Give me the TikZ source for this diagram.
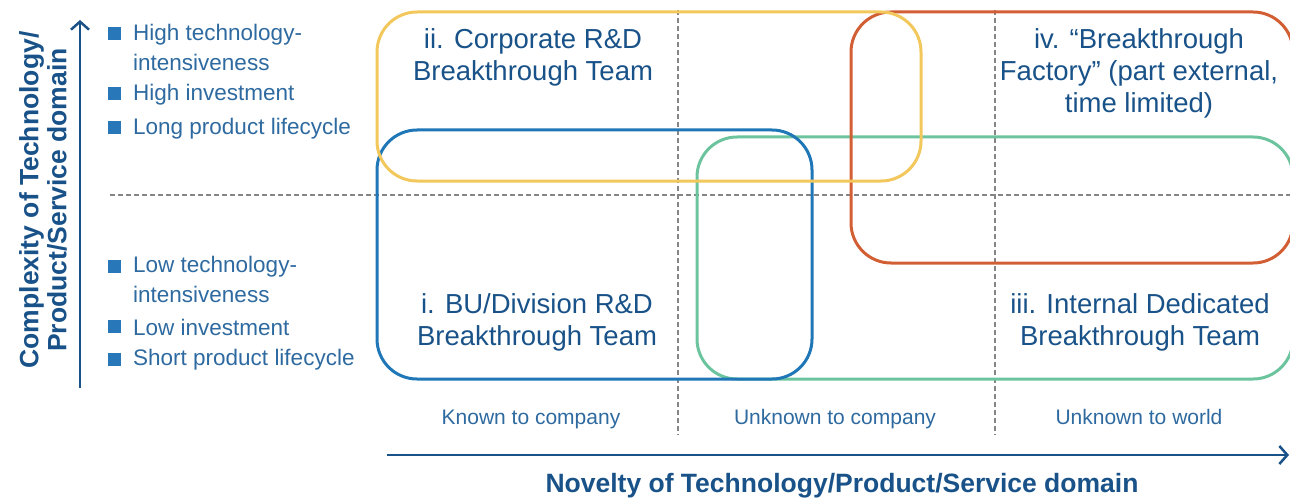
\documentclass[tikz,border=0pt]{standalone}
\usepackage{fontspec}
\setmainfont{Liberation Sans}
\usetikzlibrary{arrows.meta}
\definecolor{Navy}{RGB}{25,82,136}
\definecolor{Ink}{RGB}{46,106,160}
\definecolor{Sq}{RGB}{40,120,185}
\definecolor{Gold}{RGB}{242,199,92}
\definecolor{Sea}{RGB}{31,119,183}
\definecolor{Mint}{RGB}{108,196,158}
\definecolor{Rust}{RGB}{210,94,52}

\begin{document}
\begin{tikzpicture}[x=1pt,y=-1pt,
  box/.style={line width=3pt,rounded corners=40pt},
  grid/.style={black!48,line width=1.4pt,dash pattern=on 5pt off 3pt},
  axis/.style={Navy,line width=2.5pt,-{Straight Barb[length=8pt,width=18pt]}},
  team/.style={Navy,font=\fontsize{27.5}{32}\selectfont,align=center,inner sep=0},
  item/.style={Ink,font=\fontsize{22.5}{26}\selectfont,anchor=west,inner sep=0},
  zone/.style={Ink,font=\fontsize{21}{25}\selectfont,anchor=base,inner sep=0},
  title/.style={Navy,font=\fontsize{26.5}{28}\selectfont\bfseries,align=center,inner sep=0}]
\useasboundingbox (0,0) rectangle (1290,500);

% quadrant grid
\draw[grid] (110,195) -- (1290,195);
\foreach \x in {678,995}
  \draw[grid] (\x,10) -- (\x,435);

% team areas
\draw[box,Mint] (697,137) rectangle (1293,379);
\draw[box,Sea] (377,130) rectangle (812,379);
\draw[box,Rust] (851,12) rectangle (1293,263);
\draw[box,Gold] (377,12) rectangle (921,181);

\node[team] (corp) at (533,57) {ii. Corporate R\&D\\Breakthrough Team};
\node[team] (fact) at (1139,73) {iv. “Breakthrough\\Factory” (part external,\\time limited)};
\node[team] (bu) at (537,322) {i. BU/Division R\&D\\Breakthrough Team};
\node[team] (intl) at (1140,322) {iii. Internal Dedicated\\Breakthrough Team};

% axes
\coordinate (yb) at (80,388);
\coordinate (yt) at (80,20);
\coordinate (xl) at (387,455);
\coordinate (xr) at (1289,455);
\draw[axis] (yb) -- (yt);
\draw[axis] (xl) -- (xr);
\node[title,rotate=90] (ylab) at (43,200) {Complexity of Technology/\\Product/Service domain};
\node[title] (xlab) at (842,486) {Novelty of Technology/Product/Service domain};

% novelty columns
\foreach \x/\t [count=\i] in {531/Known to company,835/Unknown to company,1139/Unknown to world}
  \node[zone] (z\i) at (\x,424) {\t};

% complexity bullets
\foreach \y/\t [count=\i] in {35/High technology-,95/High investment,129/Long product lifecycle,
    267/Low technology-,327/Low investment,360/Short product lifecycle}{
  \node[fill=Sq,minimum size=13pt,inner sep=0] (sq\i) at (114,\y-1) {};
  \node[item] (it\i) at (133,\y) {\t};
}
\foreach \y [count=\i] in {62,294}
  \node[item] (cont\i) at (133,\y) {intensiveness};
\end{tikzpicture}
\end{document}
